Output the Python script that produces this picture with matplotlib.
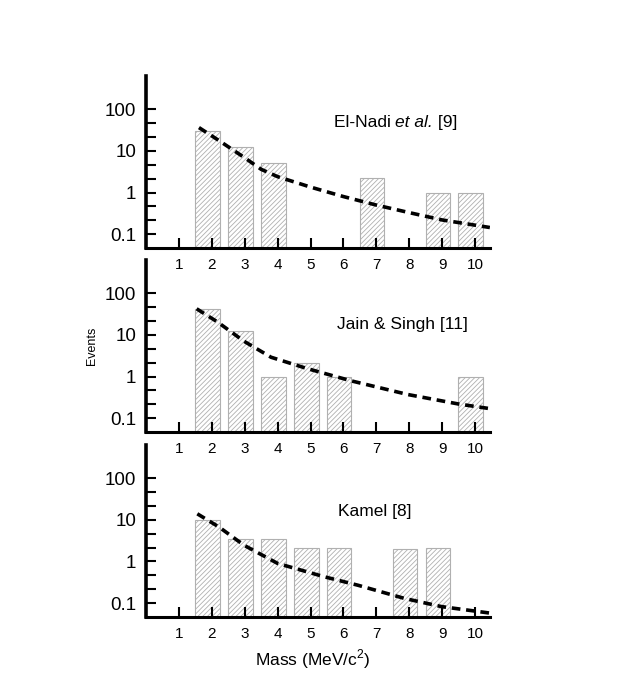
import matplotlib
matplotlib.use('Agg')
import matplotlib.pyplot as plt
from matplotlib.transforms import ScaledTranslation, offset_copy
import numpy as np

plt.rcParams['font.family'] = ['Liberation Sans', 'DejaVu Sans']
plt.rcParams['mathtext.fontset'] = 'custom'
plt.rcParams['mathtext.rm'] = 'Liberation Sans'
plt.rcParams['hatch.linewidth'] = 0.6

# datos
masas = [1, 2, 3, 4, 5, 6, 7, 8, 9, 10]

nadi_x = [2, 3, 4, 7, 9, 10]
nadi_ev = [30, 12.5, 5.0, 2.2, 1.0, 1.0]
nadi_fit_x = [1.61, 2.07, 2.5, 3.0, 3.5, 4.0, 5.0, 6.0, 7.0, 8.0, 9.0, 10.45]
nadi_fit_y = [36, 21, 12.5, 6.8, 3.6, 2.4, 1.35, 0.8, 0.5, 0.33, 0.22, 0.145]

jain_x = [2, 3, 4, 5, 6, 10]
jain_ev = [42, 12.2, 1.0, 2.1, 1.0, 1.0]
jain_fit_x = [1.54, 2.17, 2.98, 3.8, 4.9, 6.23, 7.96, 9.49, 10.45]
jain_fit_y = [42, 20.4, 7.0, 2.9, 1.55, 0.79, 0.37, 0.22, 0.17]

kamel_x = [2, 3, 4, 5, 6, 8, 9]
kamel_ev = [10, 3.5, 3.5, 2.15, 2.05, 1.95, 2.1]
kamel_fit_x = [1.56, 2.22, 2.98, 4.0, 5.42, 6.44, 7.86, 8.98, 10.45]
kamel_fit_y = [13.9, 6.7, 2.45, 0.9, 0.43, 0.27, 0.13, 0.083, 0.058]

# cada etiqueta en trozos (texto, estilo)
paneles = [
    (nadi_x, nadi_ev, nadi_fit_x, nadi_fit_y,
     [('El-Nadi ', 'normal'), ('et al.', 'italic'), (' [9]', 'normal')], 5.7, 48),
    (jain_x, jain_ev, jain_fit_x, jain_fit_y, [('Jain & Singh [11]', 'normal')], 5.79, 18),
    (kamel_x, kamel_ev, kamel_fit_x, kamel_fit_y, [('Kamel [8]', 'normal')], 5.85, 15.8),
]

fig = plt.figure(figsize=(6.23, 6.92), dpi=100)
bottoms = [0.6416, 0.3757, 0.1084]
yticks = [10 ** (k / 3) for k in range(-3, 7)]


def etiqueta(ax, x, y, trozos):
    # escribe los trozos uno tras otro
    trans = ax.transData
    for txt, estilo in trozos:
        t = ax.text(x, y, txt, fontsize=12.5, style=estilo, ha='left', va='center',
                    transform=trans)
        fig.canvas.draw()
        ancho = t.get_window_extent().width
        trans = offset_copy(trans, fig=fig, x=ancho, y=0, units='dots')


for (bx, ev, fx, fy, nombre, tx, ty), b in zip(paneles, bottoms):
    ax = fig.add_axes([0.2343, b, 0.552, 0.249])
    ax.patch.set_visible(False)
    ax.set_yscale('log')
    ax.bar(np.array(bx) - 0.13, np.array(ev) - 1e-3, bottom=1e-3, width=0.75,
           color='white', edgecolor='#b0b0b0', linewidth=0.8, hatch='///////')
    ax.plot(fx, fy, color='black', lw=2.6, ls=(0, (2.4, 1.6)))
    ax.set_xlim(0, 10.45)
    ax.set_ylim(10 ** -1.33, 10 ** 2.8)
    ax.spines['top'].set_visible(False)
    ax.spines['right'].set_visible(False)
    ax.spines['left'].set_linewidth(2.6)
    ax.spines['bottom'].set_linewidth(2.2)
    ax.set_xticks(masas)
    ax.set_xticklabels([str(m) for m in masas], fontsize=11)
    for lab in ax.get_xticklabels():
        lab.set_transform(lab.get_transform() + ScaledTranslation(4 / 72, 0, fig.dpi_scale_trans))
    ax.yaxis.set_minor_locator(matplotlib.ticker.NullLocator())
    ax.set_yticks(yticks)
    ax.set_yticklabels(['0.1', '', '', '1', '', '', '10', '', '', '100'], fontsize=13.5)
    ax.tick_params(direction='in', length=7, width=1.5, pad=7)
    ax.tick_params(axis='y', length=7, pad=7)
    etiqueta(ax, tx, ty, nombre)

fig.text(0.147, 0.5, 'Events', rotation=90, fontsize=9, ha='center', va='center')
fig.text(0.502, 0.047, 'Mass (MeV/c$^2$)', fontsize=12.5, ha='center', va='center')

fig.savefig('out.png', dpi=100)
